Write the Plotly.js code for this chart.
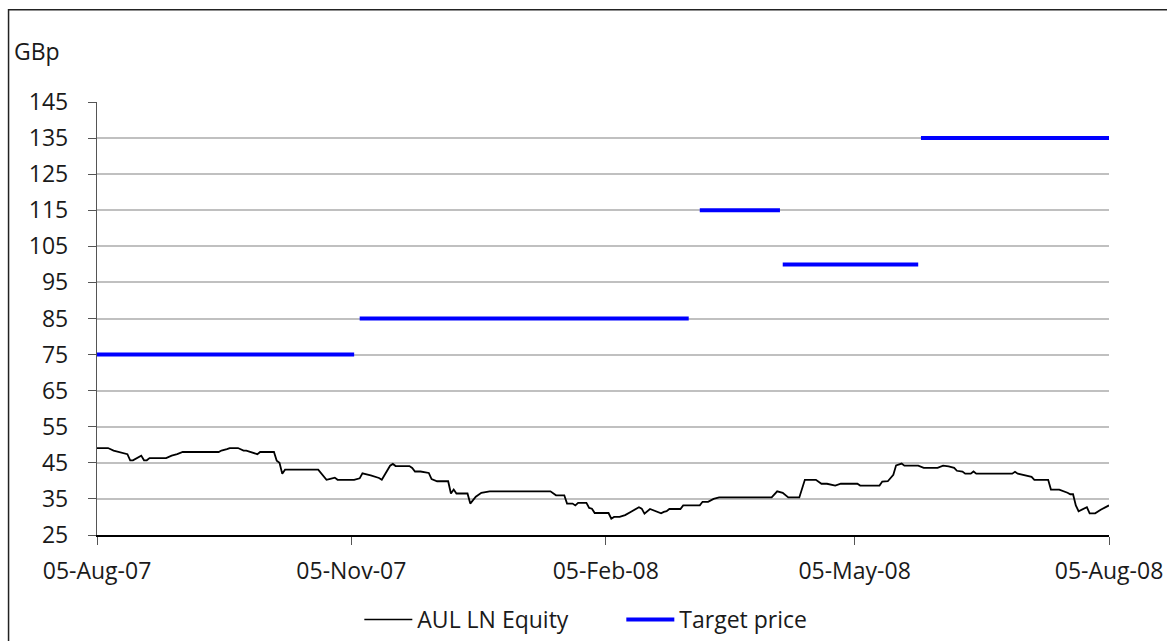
<!DOCTYPE html>
<html>
<head>
<meta charset="utf-8">
<script src="https://cdn.plot.ly/plotly-3.0.1.min.js"></script>
<style>
html,body{margin:0;padding:0;background:#fff;}
#chart{width:1167px;height:641px;}
</style>
</head>
<body>
<div id="chart"></div>
<script>
// AUL LN Equity share price (GBp)
var priceDates = [
'2007-08-05','2007-08-09','2007-08-11','2007-08-13','2007-08-15','2007-08-16','2007-08-17','2007-08-18',
'2007-08-21','2007-08-22','2007-08-23','2007-08-24','2007-08-30','2007-09-01','2007-09-03','2007-09-05',
'2007-09-18','2007-09-19','2007-09-21','2007-09-22','2007-09-25','2007-09-27','2007-09-28','2007-09-30',
'2007-10-02','2007-10-03','2007-10-08','2007-10-09','2007-10-10','2007-10-11','2007-10-12','2007-10-24',
'2007-10-27','2007-10-28','2007-10-30','2007-10-31','2007-11-06','2007-11-08','2007-11-09','2007-11-12',
'2007-11-14','2007-11-15','2007-11-16','2007-11-18','2007-11-19','2007-11-20','2007-11-21','2007-11-26',
'2007-11-27','2007-11-28','2007-11-30','2007-12-03','2007-12-04','2007-12-06','2007-12-10','2007-12-11',
'2007-12-12','2007-12-13','2007-12-17','2007-12-18','2007-12-20','2007-12-22','2007-12-25','2008-01-16',
'2008-01-18','2008-01-21','2008-01-22','2008-01-24','2008-01-25','2008-01-26','2008-01-29','2008-01-30',
'2008-01-31','2008-02-01','2008-02-06','2008-02-07','2008-02-08','2008-02-10','2008-02-12','2008-02-14',
'2008-02-17','2008-02-18','2008-02-19','2008-02-21','2008-02-23','2008-02-25','2008-02-26','2008-02-27',
'2008-02-28','2008-03-03','2008-03-04','2008-03-10','2008-03-11','2008-03-13','2008-03-15','2008-03-17',
'2008-04-05','2008-04-07','2008-04-09','2008-04-11','2008-04-15','2008-04-17','2008-04-21','2008-04-23',
'2008-04-25','2008-04-28','2008-04-30','2008-05-06','2008-05-07','2008-05-14','2008-05-15','2008-05-17',
'2008-05-19','2008-05-20','2008-05-22','2008-05-23','2008-05-28','2008-05-30','2008-06-04','2008-06-06',
'2008-06-08','2008-06-10','2008-06-11','2008-06-13','2008-06-14','2008-06-16','2008-06-17','2008-06-18',
'2008-07-01','2008-07-02','2008-07-03','2008-07-06','2008-07-08','2008-07-09','2008-07-14','2008-07-15',
'2008-07-18','2008-07-21','2008-07-22','2008-07-23','2008-07-24','2008-07-25','2008-07-28','2008-07-29',
'2008-07-31','2008-08-02','2008-08-05'
];
var priceValues = [
49.1,49.1,48.4,48.0,47.4,47.4,45.7,45.7,
47.0,45.7,45.7,46.3,46.3,47.0,47.4,48.0,
48.0,48.4,48.8,49.1,49.1,48.4,48.4,48.0,
47.4,48.0,48.0,45.6,45.0,42.0,43.1,43.1,
40.3,40.5,40.9,40.3,40.3,40.7,42.1,41.5,
41.0,40.8,40.3,42.9,44.2,44.7,44.1,44.1,
43.6,42.6,42.6,42.2,40.5,39.9,39.9,36.5,
37.6,36.5,36.5,33.7,35.6,36.7,37.1,37.1,
36.0,36.0,33.7,33.7,33.2,33.9,33.9,32.5,
32.3,31.1,31.1,29.5,30.0,30.0,30.5,31.4,
32.7,32.3,30.9,32.2,31.6,31.0,31.4,31.6,
32.2,32.2,33.2,33.2,34.2,34.2,35.0,35.4,
35.4,37.1,36.7,35.4,35.4,40.3,40.3,39.2,
39.2,38.7,39.2,39.2,38.7,38.7,39.8,39.9,
41.7,44.3,44.8,44.2,44.2,43.6,43.6,44.2,
44.0,43.6,42.8,42.6,42.0,42.0,42.6,42.0,
42.0,42.5,42.0,41.4,41.1,40.3,40.3,37.6,
37.6,36.7,36.3,36.3,33.2,31.6,32.7,31.0,
31.0,32.0,33.2
];

// Target price (GBp); null marks a break between targets
var targetDates = [
'2007-08-05','2007-11-06','2007-11-07',
'2007-11-08','2008-03-06','2008-03-08',
'2008-03-10','2008-04-08','2008-04-08',
'2008-04-09','2008-05-28','2008-05-28',
'2008-05-29','2008-08-05'
];
var targetValues = [
75,75,null,
85,85,null,
115,115,null,
100,100,null,
135,135
];

var tickDates = ['2007-08-05','2007-11-05','2008-02-05','2008-05-05','2008-08-05'];
var tickLabels = ['05-Aug-07','05-Nov-07','05-Feb-08','05-May-08','05-Aug-08'];
var yTicks = [25,35,45,55,65,75,85,95,105,115,125,135,145];

var FONT = 'Open Sans, Lato, DejaVu Sans, sans-serif';
var FS = 23;
var TXT = '#1a1a1a';

var traces = [
  {
    x: priceDates, y: priceValues, type: 'scatter', mode: 'lines',
    name: 'AUL LN Equity',
    line: {color: '#000000', width: 1.8}
  },
  {
    x: targetDates, y: targetValues, type: 'scatter', mode: 'lines',
    name: 'Target price', connectgaps: false,
    line: {color: '#0000ff', width: 4}
  }
];

var layout = {
  width: 1167, height: 641,
  paper_bgcolor: '#ffffff', plot_bgcolor: '#ffffff',
  margin: {l: 96.5, r: 57.7, t: 101.5, b: 105.5, autoexpand: false},
  font: {family: FONT, size: FS, color: TXT},
  showlegend: true,
  legend: {
    orientation: 'h', x: 0.277, xanchor: 'left', y: -0.195, yanchor: 'middle',
    font: {family: FONT, size: FS, color: TXT},
    entrywidth: 217, entrywidthmode: 'pixels',
    bgcolor: 'rgba(0,0,0,0)'
  },
  xaxis: {
    type: 'date',
    range: ['2007-08-05', '2008-08-05'],
    tickmode: 'array', tickvals: tickDates, ticktext: tickLabels,
    showgrid: false, zeroline: false,
    showline: true, linecolor: '#000000', linewidth: 1.5,
    ticks: 'outside', ticklen: 8, tickcolor: '#555555', tickwidth: 1,
    ticklabelstandoff: 7,
    tickfont: {family: FONT, size: FS, color: TXT}
  },
  yaxis: {
    range: [25, 145],
    tickmode: 'array', tickvals: yTicks,
    showgrid: true, gridcolor: '#c0c0c0', gridwidth: 2,
    zeroline: false,
    showline: true, linecolor: '#555555', linewidth: 1.2,
    ticks: 'outside', ticklen: 8, tickcolor: '#555555', tickwidth: 1,
    ticklabelstandoff: 15,
    tickfont: {family: FONT, size: FS, color: TXT}
  },
  annotations: [{
    text: 'GBp', xref: 'paper', yref: 'paper',
    x: -0.0835, y: 1.1187, xanchor: 'left', yanchor: 'middle',
    showarrow: false, font: {family: FONT, size: FS, color: TXT}
  }],
  shapes: [{
    type: 'rect', xref: 'paper', yref: 'paper',
    x0: -0.0874, x1: 1.07, y0: -0.4, y1: 1.2131,
    line: {color: '#222222', width: 1.5}, fillcolor: 'rgba(0,0,0,0)', layer: 'below'
  }]
};

Plotly.newPlot('chart', traces, layout, {displayModeBar: false, staticPlot: true}).then(function(gd){
  // let the legend key samples extend past the legend's clip box
  gd.querySelectorAll('.legend [clip-path]').forEach(function(el){
    el.removeAttribute('clip-path');
  });
  // lengthen legend line samples to match the reference key
  var groups = gd.querySelectorAll('.legend .traces');
  groups.forEach(function(g, i){
    g.querySelectorAll('.legendlines path').forEach(function(p){
      p.setAttribute('d', 'M-13,0h48');
      if (i === 0) p.style.strokeWidth = '1.5px';
    });
  });
});
</script>
</body>
</html>
